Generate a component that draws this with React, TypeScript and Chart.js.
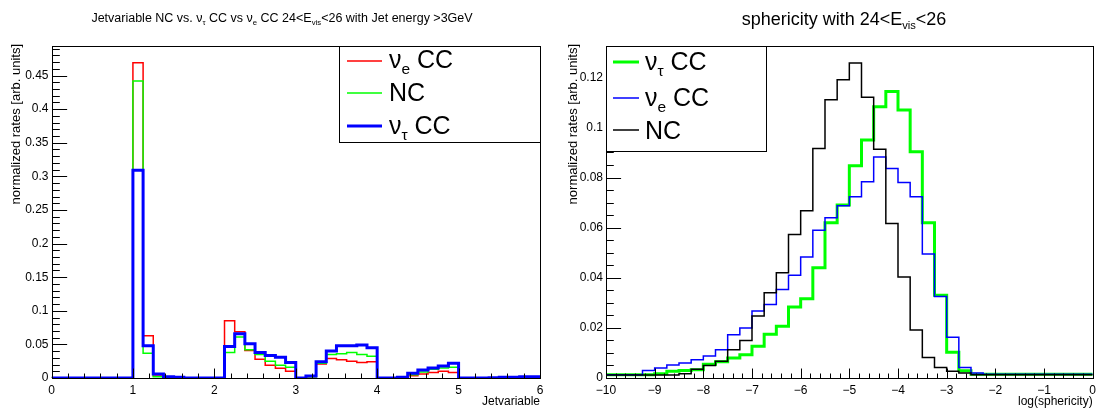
import React, { useEffect, useRef } from "react";
import { Chart, registerables } from "chart.js";

Chart.register(...registerables);

// ---------------- DATA ----------------
// Left panel: Jetvariable, 48 bins from 0 to 6
const jetRange = [0, 6];
const jetBinCount = 48;
const jetXTicks = [0, 1, 2, 3, 4, 5, 6];
const jetXTickLabels = ["0", "1", "2", "3", "4", "5", "6"];
const jetYTicks = [0, 0.05, 0.1, 0.15, 0.2, 0.25, 0.3, 0.35, 0.4, 0.45];
const jetYTickLabels = ["0", "0.05", "0.1", "0.15", "0.2", "0.25", "0.3", "0.35", "0.4", "0.45"];
const jetYMax = 0.494;

const jetNueCC = [
  0, 0, 0, 0, 0, 0, 0, 0,
  0.469, 0.063, 0.003, 0.001, 0.0005, 0, 0, 0,
  0, 0.085, 0.069, 0.041, 0.028, 0.019, 0.0145, 0.010,
  0, 0.002, 0.021, 0.029, 0.027, 0.025, 0.023, 0.024,
  0, 0, 0.001, 0.0035, 0.006, 0.008, 0.010, 0.008,
  0, 0, 0, 0, 0.001, 0.001, 0.0015, 0.0015,
];
const jetNC = [
  0, 0, 0, 0, 0, 0, 0, 0,
  0.442, 0.037, 0.002, 0.001, 0.0005, 0, 0, 0,
  0, 0.038, 0.061, 0.042, 0.035, 0.025, 0.019, 0.016,
  0, 0.002, 0.022, 0.035, 0.036, 0.038, 0.035, 0.0325,
  0, 0, 0.001, 0.005, 0.009, 0.013, 0.015, 0.016,
  0, 0, 0, 0.0005, 0.001, 0.001, 0.002, 0.002,
];
const jetNutauCC = [
  0, 0, 0, 0, 0, 0, 0, 0,
  0.309, 0.048, 0.006, 0.002, 0.001, 0, 0, 0,
  0, 0.047, 0.066, 0.051, 0.038, 0.0335, 0.031, 0.023,
  0, 0.003, 0.024, 0.040, 0.048, 0.048, 0.049, 0.045,
  0, 0, 0.001, 0.007, 0.012, 0.015, 0.018, 0.022,
  0, 0, 0, 0.0005, 0.001, 0.001, 0.002, 0.002,
];

// Right panel: log(sphericity), 40 bins from -10 to 0
const sphRange = [-10, 0];
const sphBinCount = 40;
const sphXTicks = [-10, -9, -8, -7, -6, -5, -4, -3, -2, -1, 0];
const sphXTickLabels = ["\u221210", "\u22129", "\u22128", "\u22127", "\u22126", "\u22125", "\u22124", "\u22123", "\u22122", "\u22121", "0"];
const sphYTicks = [0, 0.02, 0.04, 0.06, 0.08, 0.1, 0.12];
const sphYTickLabels = ["0", "0.02", "0.04", "0.06", "0.08", "0.1", "0.12"];
const sphYMax = 0.1325;

const sphNutauCC = [
  0.0013, 0.0013, 0.0013, 0.0013, 0.0017, 0.0027, 0.003, 0.0033, 0.0055, 0.0065,
  0.008, 0.0093, 0.0127, 0.0175, 0.0207, 0.0283, 0.0316, 0.044, 0.062, 0.069,
  0.0847, 0.095, 0.1083, 0.1143, 0.107, 0.0903, 0.062, 0.033, 0.0103, 0.0029,
  0.0015, 0.0015, 0.0015, 0.0015, 0.0015, 0.0015, 0.0015, 0.0015, 0.0015, 0.0015,
];
const sphNueCC = [
  0.0013, 0.0013, 0.0013, 0.003, 0.004, 0.0052, 0.006, 0.0073, 0.0088, 0.0113,
  0.0173, 0.020, 0.0267, 0.0293, 0.0353, 0.041, 0.0483, 0.059, 0.064, 0.0687,
  0.0723, 0.0783, 0.0882, 0.0836, 0.078, 0.0723, 0.0495, 0.0325, 0.0163, 0.0042,
  0.002, 0.0015, 0.0015, 0.0015, 0.0015, 0.0015, 0.0015, 0.0015, 0.0015, 0.0015,
];
const sphNC = [
  0.0012, 0.0012, 0.0012, 0.0012, 0.0012, 0.0012, 0.0017, 0.0035, 0.005, 0.0067,
  0.0113, 0.015, 0.0247, 0.034, 0.042, 0.0573, 0.0667, 0.0916, 0.111, 0.119,
  0.1257, 0.112, 0.0913, 0.0617, 0.0403, 0.0192, 0.0082, 0.0042, 0.0027, 0.002,
  0.0013, 0.0013, 0.0013, 0.0013, 0.0013, 0.0013, 0.0013, 0.0013, 0.0013, 0.0013,
];

// ---------------- HELPERS ----------------
const FONT = '"Liberation Sans", Arial, Helvetica, sans-serif';

type Seg = { t: string; sub?: boolean };

function binEdges(range: number[], n: number) {
  const w = (range[1] - range[0]) / n;
  return Array.from({ length: n + 1 }, (_, i) => range[0] + i * w);
}

function histPoints(edges: number[], values: number[]) {
  const pts = values.map((v, i) => ({ x: edges[i], y: v }));
  pts.push({ x: edges[values.length], y: values[values.length - 1] });
  return pts;
}

function richWidth(ctx: CanvasRenderingContext2D, segs: Seg[], size: number) {
  let w = 0;
  for (const s of segs) {
    ctx.font = `${s.sub ? size * 0.62 : size}px ${FONT}`;
    w += ctx.measureText(s.t).width;
  }
  return w;
}

function drawRich(
  ctx: CanvasRenderingContext2D,
  segs: Seg[],
  x: number,
  y: number,
  size: number,
  align: "left" | "center" | "right"
) {
  const w = richWidth(ctx, segs, size);
  let cx = align === "left" ? x : align === "center" ? x - w / 2 : x - w;
  ctx.textAlign = "left";
  ctx.textBaseline = "alphabetic";
  ctx.fillStyle = "#000";
  for (const s of segs) {
    const fs = s.sub ? size * 0.62 : size;
    ctx.font = `${fs}px ${FONT}`;
    ctx.fillText(s.t, cx, s.sub ? y + size * 0.22 : y);
    cx += ctx.measureText(s.t).width;
  }
}

type LegendEntry = { segs: Seg[]; color: string; width: number; lineY: number; textY: number };

type PanelDeco = {
  title: Seg[];
  titleX: number;
  titleY: number;
  titleSize: number;
  yTitle: string;
  yTitleX: number;
  xTitle: string;
  xTitleY: number;
  xMajor: number;
  xMinor: number;
  yMajor: number;
  yMinor: number;
  legendBox: { x0: number; y0: number; x1: number; y1: number };
  legendLineX: [number, number];
  legendTextX: number;
  legendSize: number;
  legend: LegendEntry[];
};

function drawTicks(
  ctx: CanvasRenderingContext2D,
  scale: any,
  min: number,
  max: number,
  major: number,
  minor: number,
  horizontal: boolean,
  area: any,
  majLen: number
) {
  const start = Math.ceil(min / minor - 1e-6);
  const end = Math.floor(max / minor + 1e-6);
  ctx.beginPath();
  for (let k = start; k <= end; k++) {
    const v = k * minor;
    const r = v / major;
    const isMajor = Math.abs(r - Math.round(r)) < 1e-6;
    const len = isMajor ? majLen : majLen / 2;
    const p = Math.round(scale.getPixelForValue(v)) + 0.5;
    if (horizontal) {
      const yb = Math.round(area.bottom) + 0.5;
      ctx.moveTo(p, yb);
      ctx.lineTo(p, yb - len);
    } else {
      const xl = Math.round(area.left) + 0.5;
      ctx.moveTo(xl, p);
      ctx.lineTo(xl + len, p);
    }
  }
  ctx.stroke();
}

function decoPlugin(d: PanelDeco) {
  return {
    id: "rootDeco",
    afterDatasetsDraw(chart: any) {
      const ctx: CanvasRenderingContext2D = chart.ctx;
      const a = chart.chartArea;
      const xs = chart.scales.x;
      const ys = chart.scales.y;
      ctx.save();
      ctx.strokeStyle = "#000";
      ctx.lineWidth = 1;
      // frame
      const L = Math.round(a.left) + 0.5;
      const T = Math.round(a.top) + 0.5;
      const R = Math.round(a.right) + 0.5;
      const B = Math.round(a.bottom) + 0.5;
      ctx.strokeRect(L, T, R - L, B - T);
      // ticks (inward, ROOT style)
      drawTicks(ctx, xs, xs.min, xs.max, d.xMajor, d.xMinor, true, a, (a.bottom - a.top) * 0.03);
      drawTicks(ctx, ys, ys.min, ys.max, d.yMajor, d.yMinor, false, a, (a.right - a.left) * 0.03);

      // title
      drawRich(ctx, d.title, d.titleX, d.titleY, d.titleSize, "center");

      // y title (rotated, aligned to the top of the axis)
      ctx.save();
      ctx.translate(d.yTitleX, a.top - 2);
      ctx.rotate(-Math.PI / 2);
      ctx.font = `13px ${FONT}`;
      ctx.fillStyle = "#000";
      ctx.textAlign = "right";
      ctx.textBaseline = "middle";
      ctx.fillText(d.yTitle, 0, 0);
      ctx.restore();

      // x title (right aligned at axis end)
      ctx.font = `12px ${FONT}`;
      ctx.fillStyle = "#000";
      ctx.textAlign = "right";
      ctx.textBaseline = "alphabetic";
      ctx.fillText(d.xTitle, a.right, d.xTitleY);

      // legend
      const lb = d.legendBox;
      ctx.fillStyle = "#fff";
      ctx.fillRect(lb.x0, lb.y0, lb.x1 - lb.x0, lb.y1 - lb.y0);
      ctx.strokeStyle = "#000";
      ctx.lineWidth = 1;
      ctx.strokeRect(Math.round(lb.x0) + 0.5, Math.round(lb.y0) + 0.5, Math.round(lb.x1 - lb.x0), Math.round(lb.y1 - lb.y0));
      for (const e of d.legend) {
        ctx.strokeStyle = e.color;
        ctx.lineWidth = e.width;
        ctx.beginPath();
        ctx.moveTo(d.legendLineX[0], e.lineY);
        ctx.lineTo(d.legendLineX[1], e.lineY);
        ctx.stroke();
        drawRich(ctx, e.segs, d.legendTextX, e.textY, d.legendSize, "left");
      }
      ctx.restore();
    },
  };
}

type Series = { label: string; values: number[]; color: string; width: number; order: number };

function buildConfig(
  edges: number[],
  series: Series[],
  xRange: number[],
  yMax: number,
  xTicks: number[],
  xLabels: string[],
  yTicks: number[],
  yLabels: string[],
  yAxisWidth: number,
  rightPad: number,
  deco: PanelDeco
): any {
  return {
    type: "line",
    data: {
      datasets: series.map((s) => ({
        label: s.label,
        data: histPoints(edges, s.values),
        borderColor: s.color,
        backgroundColor: s.color,
        borderWidth: s.width,
        stepped: "before",
        pointRadius: 0,
        fill: false,
        tension: 0,
        order: s.order,
        borderJoinStyle: "miter",
        borderCapStyle: "butt",
      })),
    },
    options: {
      animation: false,
      responsive: false,
      devicePixelRatio: 1,
      events: [],
      layout: { padding: { top: 46, right: rightPad, left: 0, bottom: 0 } },
      plugins: {
        legend: { display: false },
        title: { display: false },
        tooltip: { enabled: false },
      },
      scales: {
        x: {
          type: "linear",
          min: xRange[0],
          max: xRange[1],
          grid: { display: false, drawTicks: false },
          border: { display: false },
          afterBuildTicks: (scale: any) => {
            scale.ticks = xTicks.map((v) => ({ value: v }));
          },
          afterFit: (scale: any) => {
            scale.height = 30;
          },
          ticks: {
            autoSkip: false,
            maxRotation: 0,
            minRotation: 0,
            padding: 5,
            color: "#000",
            font: { family: FONT, size: 12 },
            callback: (v: number) => {
              const i = xTicks.findIndex((t) => Math.abs(t - v) < 1e-9);
              return i >= 0 ? xLabels[i] : "";
            },
          },
        },
        y: {
          type: "linear",
          min: 0,
          max: yMax,
          grid: { display: false, drawTicks: false },
          border: { display: false },
          afterBuildTicks: (scale: any) => {
            scale.ticks = yTicks.map((v) => ({ value: v }));
          },
          afterFit: (scale: any) => {
            scale.width = yAxisWidth;
          },
          ticks: {
            autoSkip: false,
            padding: 3,
            color: "#000",
            font: { family: FONT, size: 12 },
            callback: (v: number) => {
              const i = yTicks.findIndex((t) => Math.abs(t - v) < 1e-9);
              return i >= 0 ? yLabels[i] : "";
            },
          },
        },
      },
    },
    plugins: [decoPlugin(deco)],
  };
}

// ---------------- COMPONENT ----------------
export default function App() {
  const leftRef = useRef<HTMLCanvasElement>(null);
  const rightRef = useRef<HTMLCanvasElement>(null);

  useEffect(() => {
    const jetEdges = binEdges(jetRange, jetBinCount);
    const sphEdges = binEdges(sphRange, sphBinCount);

    const nuTauE: Seg[] = [{ t: "\u03BD" }, { t: "\u03C4", sub: true }, { t: " CC" }];
    const nuE: Seg[] = [{ t: "\u03BD" }, { t: "e", sub: true }, { t: " CC" }];

    const leftDeco: PanelDeco = {
      title: [
        { t: "Jetvariable NC vs. \u03BD" },
        { t: "\u03C4", sub: true },
        { t: " CC vs \u03BD" },
        { t: "e", sub: true },
        { t: " CC 24<E" },
        { t: "vis", sub: true },
        { t: "<26 with Jet energy >3GeV" },
      ],
      titleX: 282,
      titleY: 22,
      titleSize: 12.5,
      yTitle: "normalized rates [arb. units]",
      yTitleX: 16,
      xTitle: "Jetvariable",
      xTitleY: 405,
      xMajor: 1,
      xMinor: 0.2,
      yMajor: 0.05,
      yMinor: 0.01,
      legendBox: { x0: 339, y0: 46, x1: 540, y1: 142 },
      legendLineX: [347, 382],
      legendTextX: 389,
      legendSize: 25,
      legend: [
        { segs: nuE, color: "#ff0000", width: 1.5, lineY: 61, textY: 68 },
        { segs: [{ t: "NC" }], color: "#00ff00", width: 1.5, lineY: 93, textY: 101 },
        { segs: nuTauE, color: "#0000ff", width: 3, lineY: 126, textY: 134 },
      ],
    };

    const rightDeco: PanelDeco = {
      title: [{ t: "sphericity with 24<E" }, { t: "vis", sub: true }, { t: "<26" }],
      titleX: 294,
      titleY: 25,
      titleSize: 18,
      yTitle: "normalized rates [arb. units]",
      yTitleX: 23,
      xTitle: "log(sphericity)",
      xTitleY: 405,
      xMajor: 1,
      xMinor: 0.2,
      yMajor: 0.02,
      yMinor: 0.005,
      legendBox: { x0: 56, y0: 46, x1: 216, y1: 151 },
      legendLineX: [63, 89],
      legendTextX: 95,
      legendSize: 25,
      legend: [
        { segs: nuTauE, color: "#00ff00", width: 3, lineY: 62, textY: 70 },
        { segs: nuE, color: "#0000ff", width: 1.5, lineY: 98, textY: 106 },
        { segs: [{ t: "NC" }], color: "#000000", width: 1.5, lineY: 130, textY: 139 },
      ],
    };

    const left = new Chart(
      leftRef.current as HTMLCanvasElement,
      buildConfig(
        jetEdges,
        [
          { label: "\u03BDe CC", values: jetNueCC, color: "#ff0000", width: 1.5, order: 3 },
          { label: "NC", values: jetNC, color: "#00ff00", width: 1.5, order: 2 },
          { label: "\u03BD\u03C4 CC", values: jetNutauCC, color: "#0000ff", width: 3, order: 1 },
        ],
        jetRange,
        jetYMax,
        jetXTicks,
        jetXTickLabels,
        jetYTicks,
        jetYTickLabels,
        51.5,
        10,
        leftDeco
      )
    );

    const right = new Chart(
      rightRef.current as HTMLCanvasElement,
      buildConfig(
        sphEdges,
        [
          { label: "\u03BD\u03C4 CC", values: sphNutauCC, color: "#00ff00", width: 3, order: 3 },
          { label: "\u03BDe CC", values: sphNueCC, color: "#0000ff", width: 1.5, order: 2 },
          { label: "NC", values: sphNC, color: "#000000", width: 1.5, order: 1 },
        ],
        sphRange,
        sphYMax,
        sphXTicks,
        sphXTickLabels,
        sphYTicks,
        sphYTickLabels,
        56,
        5,
        rightDeco
      )
    );

    return () => {
      left.destroy();
      right.destroy();
    };
  }, []);

  return (
    <div
      style={{
        position: "absolute",
        left: 0,
        top: 0,
        width: 1101,
        height: 408,
        background: "#fff",
        display: "flex",
      }}
    >
      <canvas ref={leftRef} width={550} height={408} style={{ display: "block", width: 550, height: 408 }} />
      <canvas ref={rightRef} width={551} height={408} style={{ display: "block", width: 551, height: 408 }} />
    </div>
  );
}
